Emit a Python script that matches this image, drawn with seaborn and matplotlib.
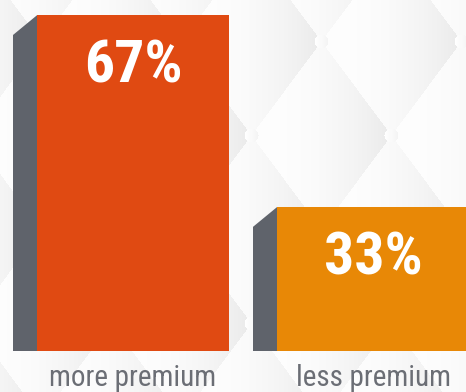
import numpy as np
import matplotlib
matplotlib.use("Agg")
import matplotlib.pyplot as plt
from matplotlib import font_manager
from matplotlib.patches import Polygon
import seaborn as sns

# data
categories = ["more premium", "less premium"]
shares = [67, 33]
value_labels = ["67%", "33%"]
bar_colors = ["#E04A12", "#E88806"]
side_color = "#5F636B"
label_color = "#6B6E75"

# pick a condensed font if one is around
names = {f.name for f in font_manager.fontManager.ttflist}
cond = "DejaVu Sans"
for cand in ["Roboto Condensed", "Liberation Sans Narrow", "Roboto"]:
    if cand in names:
        cond = cand
        break

sns.set_theme(style="white")
plt.rcParams["font.family"] = [cond, "DejaVu Sans"]

W, H = 466, 392
fig = plt.figure(figsize=(W / 100, H / 100), dpi=100)

# quilted background: diamonds with a left-to-right shade
yy, xx = np.mgrid[0:H, 0:W].astype(float)
a = (xx - 321) / 70.0
b = (yy - 135) / 94.0
p0 = np.round((a + b) / 2)
q0 = np.round((a - b) / 2)
u = a - (p0 + q0)
g = 254 - 20 * ((u + 1) / 2) ** 2.2
# little buttons where the diamonds meet
bx = np.round(a)
by = np.round(b)
dist = np.hypot((a - bx) * 70, (b - by) * 94)
btn = (dist < 7) & (((bx + by) % 2) != 0)
g = np.where(btn, 250 - 6 * (a - bx) * 10, g)
bg = np.clip(np.dstack([g, g, g]) / 255.0, 0, 1)
bg_ax = fig.add_axes([0, 0, 1, 1], zorder=0)
bg_ax.imshow(bg, aspect="auto", interpolation="bilinear")
bg_ax.axis("off")

ax = fig.add_axes([0, (H - 351) / H, 1, 351 / H], zorder=1)
ax.patch.set_alpha(0)
sns.barplot(x=categories, y=shares, hue=categories, palette=bar_colors,
            legend=False, width=0.8, saturation=1, linewidth=0, ax=ax)
ax.set_xlim(-133 / 240, (W - 133) / 240)
ax.set_ylim(7.5, 69.7)

# grey side face for the 3d look
dx, dy = 0.1, 3.5
base = ax.get_ylim()[0]
for patch in ax.patches[:len(shares)]:
    x0 = patch.get_x()
    top = patch.get_y() + patch.get_height()
    ax.add_patch(Polygon([(x0 - dx, base), (x0 - dx, top - dy), (x0, top), (x0, base)],
                         closed=True, facecolor=side_color, edgecolor="none", zorder=2))

for i, (v, lab) in enumerate(zip(shares, value_labels)):
    ax.annotate(lab, (i, v), xytext=(0, -37), textcoords="offset points",
                ha="center", va="center", color="white", fontsize=43,
                fontweight="bold", family=[cond, "DejaVu Sans"])

ax.set_yticks([])
ax.set_xlabel("")
ax.set_ylabel("")
ax.tick_params(axis="x", length=0, pad=9, labelsize=21, labelcolor=label_color)
sns.despine(ax=ax, left=True, bottom=True)

fig.savefig("out.png", dpi=100)
